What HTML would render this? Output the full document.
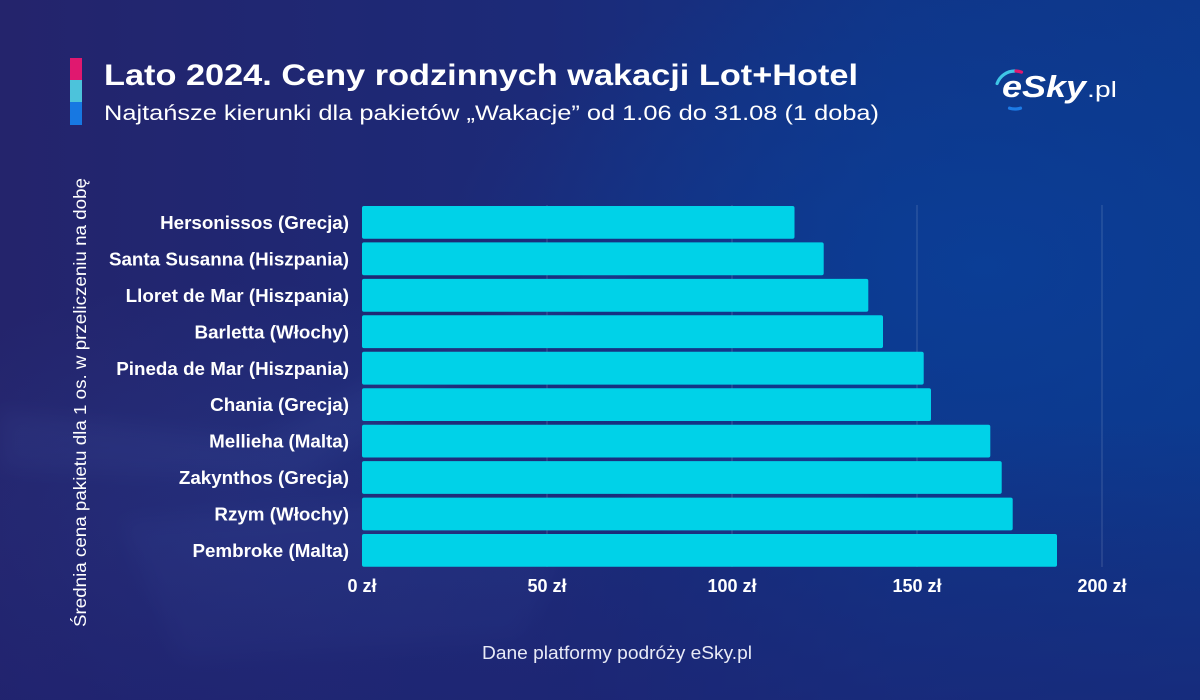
<!DOCTYPE html>
<html>
<head>
<meta charset="utf-8">
<style>
  html,body{margin:0;padding:0;width:1200px;height:700px;overflow:hidden;background:#1a2a78;}
  svg{display:block;}
  text{font-family:"Liberation Sans","Noto Sans CJK JP",sans-serif;}
</style>
</head>
<body>
<svg width="1200" height="700" viewBox="0 0 1200 700" xmlns="http://www.w3.org/2000/svg">
  <defs>
    <linearGradient id="bgH" x1="0" y1="0" x2="1" y2="0">
      <stop offset="0" stop-color="#24246c"/>
      <stop offset="0.45" stop-color="#1c2a78"/>
      <stop offset="0.75" stop-color="#103588"/>
      <stop offset="1" stop-color="#0d388c"/>
    </linearGradient>
    <radialGradient id="glowR" cx="0.82" cy="0.38" r="0.45">
      <stop offset="0" stop-color="#0a3f98" stop-opacity="0.85"/>
      <stop offset="1" stop-color="#0a3f98" stop-opacity="0"/>
    </radialGradient>
    <linearGradient id="bottomV" x1="0" y1="0" x2="0" y2="1">
      <stop offset="0.6" stop-color="#1e2270" stop-opacity="0"/>
      <stop offset="1" stop-color="#1e2270" stop-opacity="0.55"/>
    </linearGradient>
    <radialGradient id="planeGlow" cx="0.2" cy="0.75" r="0.35">
      <stop offset="0" stop-color="#3a5bb0" stop-opacity="0.18"/>
      <stop offset="1" stop-color="#3a5bb0" stop-opacity="0"/>
    </radialGradient>
    <filter id="blur8"><feGaussianBlur stdDeviation="10"/></filter>
  </defs>

  <!-- background -->
  <rect x="0" y="0" width="1200" height="700" fill="url(#bgH)"/>
  <rect x="0" y="0" width="1200" height="700" fill="url(#glowR)"/>
  <rect x="0" y="0" width="1200" height="700" fill="url(#planeGlow)"/>
  <!-- faint airplane shapes -->
  <g filter="url(#blur8)" opacity="0.08" fill="#5a78c8">
    <polygon points="0,410 260,440 620,250 640,270 300,480 0,470"/>
    <polygon points="120,520 420,500 560,560 520,640 180,660"/>
    <polygon points="600,470 820,430 880,520 700,560"/>
  </g>
  <rect x="0" y="0" width="1200" height="700" fill="url(#bottomV)"/>

  <!-- header color bar -->
  <rect x="70" y="58" width="12" height="22" fill="#e0186f"/>
  <rect x="70" y="80" width="12" height="22" fill="#4cc3db"/>
  <rect x="70" y="102" width="12" height="23" fill="#1778e2"/>

  <!-- titles -->
  <text x="104" y="85" font-size="30" font-weight="bold" fill="#ffffff" textLength="754" lengthAdjust="spacingAndGlyphs">Lato 2024. Ceny rodzinnych wakacji Lot+Hotel</text>
  <text x="104" y="120" font-size="21" fill="#ffffff" textLength="775" lengthAdjust="spacingAndGlyphs">Najtańsze kierunki dla pakietów „Wakacje” od 1.06 do 31.08 (1 doba)</text>

  <!-- logo -->
  <g fill="none" stroke-width="3.2" stroke-linecap="round">
    <path d="M997.1,83.5 A19,19 0 0 1 1015,71" stroke="#3fc6e6"/>
    <path d="M1016,71 A19,19 0 0 1 1021.5,72.1" stroke="#e0186f"/>
    <path d="M1009.5,108.2 A19,19 0 0 0 1020.5,108.2" stroke="#1d7be6"/>
  </g>
  <text x="1002" y="97" font-size="31" font-weight="bold" fill="#ffffff" font-style="italic" textLength="84" lengthAdjust="spacingAndGlyphs">eSky</text>
  <text x="1087" y="97" font-size="22" fill="#ffffff" textLength="30" lengthAdjust="spacingAndGlyphs">.pl</text>

  <!-- gridlines -->
  <g stroke="#ffffff" stroke-opacity="0.18" stroke-width="1">
    <line x1="547" y1="205" x2="547" y2="567"/>
    <line x1="732" y1="205" x2="732" y2="567"/>
    <line x1="917" y1="205" x2="917" y2="567"/>
    <line x1="1102" y1="205" x2="1102" y2="567"/>
  </g>

  <!-- bars -->
  <g fill="#00d2e8">
    <rect x="362" y="206.0" width="432.5" height="32.8" rx="2"/>
    <rect x="362" y="242.4" width="461.7" height="32.8" rx="2"/>
    <rect x="362" y="278.9" width="506.3" height="32.8" rx="2"/>
    <rect x="362" y="315.3" width="521.0" height="32.8" rx="2"/>
    <rect x="362" y="351.8" width="561.7" height="32.8" rx="2"/>
    <rect x="362" y="388.2" width="569.0" height="32.8" rx="2"/>
    <rect x="362" y="424.7" width="628.3" height="32.8" rx="2"/>
    <rect x="362" y="461.1" width="639.7" height="32.8" rx="2"/>
    <rect x="362" y="497.6" width="650.7" height="32.8" rx="2"/>
    <rect x="362" y="534.0" width="695.0" height="32.8" rx="2"/>
  </g>

  <!-- category labels -->
  <g font-size="18.8" font-weight="bold" fill="#ffffff" text-anchor="end">
    <text x="349" y="229.0">Hersonissos (Grecja)</text>
    <text x="349" y="265.4">Santa Susanna (Hiszpania)</text>
    <text x="349" y="301.9">Lloret de Mar (Hiszpania)</text>
    <text x="349" y="338.3">Barletta (Włochy)</text>
    <text x="349" y="374.8">Pineda de Mar (Hiszpania)</text>
    <text x="349" y="411.2">Chania (Grecja)</text>
    <text x="349" y="447.7">Mellieha (Malta)</text>
    <text x="349" y="484.1">Zakynthos (Grecja)</text>
    <text x="349" y="520.6">Rzym (Włochy)</text>
    <text x="349" y="557.0">Pembroke (Malta)</text>
  </g>

  <!-- x tick labels -->
  <g font-size="18" font-weight="bold" fill="#ffffff" text-anchor="middle">
    <text x="362" y="592">0 zł</text>
    <text x="547" y="592">50 zł</text>
    <text x="732" y="592">100 zł</text>
    <text x="917" y="592">150 zł</text>
    <text x="1102" y="592">200 zł</text>
  </g>

  <!-- y axis title -->
  <text transform="translate(86,402.5) rotate(-90)" x="0" y="0" font-size="17.5" fill="#ffffff" text-anchor="middle" textLength="449" lengthAdjust="spacingAndGlyphs">Średnia cena pakietu dla 1 os. w przeliczeniu na dobę</text>

  <!-- footer -->
  <text x="617" y="659" font-size="18" fill="#e8eaf6" text-anchor="middle" textLength="270" lengthAdjust="spacingAndGlyphs">Dane platformy podróży eSky.pl</text>
</svg>
</body>
</html>
